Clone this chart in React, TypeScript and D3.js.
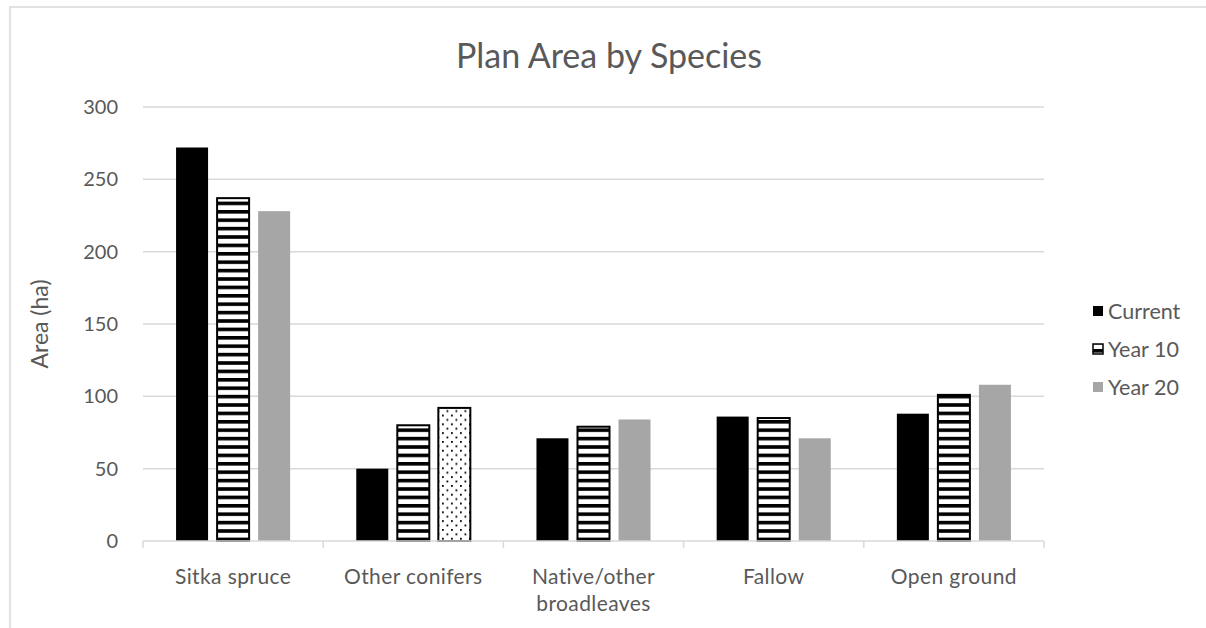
import React, { useEffect, useRef } from 'react';
import * as d3 from 'd3';

const categories = ['Sitka spruce', 'Other conifers', 'Native/other broadleaves', 'Fallow', 'Open ground'];
const seriesNames = ['Current', 'Year 10', 'Year 20'];
const current = [272, 50, 71, 86, 88];
const year10 = [237, 80, 79, 85, 101];
const year20 = [228, 92, 84, 71, 108];
const yTicks = [0, 50, 100, 150, 200, 250, 300];

const FONT = 'Lato, "Open Sans", sans-serif';
const TEXT = '#595959';
const GRID = '#d9d9d9';

const App: React.FC = () => {
  const svgRef = useRef<SVGSVGElement>(null);

  useEffect(() => {
    if (!svgRef.current) return;
    d3.select(svgRef.current).selectAll('*').remove();

    const width = 1206;
    const height = 628;
    const plot = { left: 143, right: 1044, top: 107, bottom: 541 };

    const svg = d3.select(svgRef.current).attr('width', width).attr('height', height);

    // patterns
    const defs = svg.append('defs');
    const stripes = defs
      .append('pattern')
      .attr('id', 'stripes')
      .attr('patternUnits', 'userSpaceOnUse')
      .attr('width', 8)
      .attr('height', 8.4);
    stripes.append('rect').attr('width', 8).attr('height', 8.4).attr('fill', '#fff');
    stripes.append('rect').attr('y', 0).attr('width', 8).attr('height', 3.6).attr('fill', '#000');

    const dots = defs
      .append('pattern')
      .attr('id', 'dots')
      .attr('patternUnits', 'userSpaceOnUse')
      .attr('width', 9)
      .attr('height', 8.8);
    dots.append('rect').attr('width', 9).attr('height', 8.8).attr('fill', '#fff');
    dots.append('rect').attr('x', 1).attr('y', 1).attr('width', 1.8).attr('height', 1.8).attr('fill', '#000');
    dots.append('rect').attr('x', 5.5).attr('y', 5.4).attr('width', 1.8).attr('height', 1.8).attr('fill', '#000');

    // chart border
    svg
      .append('rect')
      .attr('x', 10)
      .attr('y', 7)
      .attr('width', 1400)
      .attr('height', 800)
      .attr('fill', '#fff')
      .attr('stroke', GRID)
      .attr('stroke-width', 1.5);

    const x0 = d3
      .scaleBand()
      .domain(categories)
      .range([plot.left, plot.right])
      .paddingInner(0.367)
      .paddingOuter(0.1835);

    const x1 = d3
      .scaleBand()
      .domain(seriesNames)
      .range([0, x0.bandwidth()])
      .paddingInner(0.22)
      .paddingOuter(0);

    const y = d3.scaleLinear().domain([0, 300]).range([plot.bottom, plot.top]);

    // gridlines
    svg
      .append('g')
      .selectAll('line')
      .data(yTicks.filter((t) => t > 0))
      .join('line')
      .attr('x1', plot.left)
      .attr('x2', plot.right)
      .attr('y1', (d) => y(d))
      .attr('y2', (d) => y(d))
      .attr('stroke', GRID)
      .attr('stroke-width', 1.5);

    // y tick labels
    svg
      .append('g')
      .selectAll('text')
      .data(yTicks)
      .join('text')
      .attr('x', 118)
      .attr('y', (d) => y(d) + 7)
      .attr('text-anchor', 'end')
      .attr('font-family', FONT)
      .attr('font-size', 20)
      .attr('fill', TEXT)
      .text((d) => d);

    // bars
    const seriesData = [current, year10, year20];
    const fills = ['#000', 'url(#stripes)', '#a6a6a6'];
    seriesNames.forEach((s, si) => {
      svg
        .append('g')
        .selectAll('rect')
        .data(categories.map((c, i) => ({ c, v: seriesData[si][i] })))
        .join('rect')
        .attr('x', (d) => (x0(d.c) ?? 0) + (x1(s) ?? 0))
        .attr('y', (d) => y(d.v))
        .attr('width', x1.bandwidth())
        .attr('height', (d) => y(0) - y(d.v))
        .attr('fill', (d) => (si === 2 && d.c === 'Other conifers' ? 'url(#dots)' : fills[si]))
        .attr('stroke', (d) => (si === 1 || (si === 2 && d.c === 'Other conifers') ? '#000' : 'none'))
        .attr('stroke-width', 2);
    });

    // x axis line and ticks
    const axis = svg.append('g');
    axis
      .append('line')
      .attr('x1', plot.left)
      .attr('x2', plot.right)
      .attr('y1', plot.bottom)
      .attr('y2', plot.bottom)
      .attr('stroke', GRID)
      .attr('stroke-width', 1.5);
    const bounds = categories.map((c) => (x0(c) ?? 0) - (x0.step() * x0.paddingInner()) / 2);
    bounds.push(plot.right);
    axis
      .selectAll('line.tick')
      .data(bounds)
      .join('line')
      .attr('class', 'tick')
      .attr('x1', (d) => d)
      .attr('x2', (d) => d)
      .attr('y1', plot.bottom)
      .attr('y2', plot.bottom + 7)
      .attr('stroke', GRID)
      .attr('stroke-width', 1.5);

    // category labels
    const labelLines: Record<string, string[]> = {
      'Native/other broadleaves': ['Native/other', 'broadleaves'],
    };
    categories.forEach((c) => {
      const lines = labelLines[c] ?? [c];
      const cx = (x0(c) ?? 0) + x0.bandwidth() / 2;
      const t = svg
        .append('text')
        .attr('x', cx)
        .attr('y', 584)
        .attr('text-anchor', 'middle')
        .attr('font-family', FONT)
        .attr('font-size', 21)
        .attr('letter-spacing', 0.4)
        .attr('fill', TEXT);
      lines.forEach((l, i) => {
        t.append('tspan')
          .attr('x', cx)
          .attr('dy', i === 0 ? 0 : 27)
          .text(l);
      });
    });

    // y axis title
    svg
      .append('text')
      .attr('transform', 'translate(48,324) rotate(-90)')
      .attr('text-anchor', 'middle')
      .attr('font-family', FONT)
      .attr('font-size', 23)
      .attr('fill', TEXT)
      .text('Area (ha)');

    // title
    svg
      .append('text')
      .attr('x', 609)
      .attr('y', 68)
      .attr('text-anchor', 'middle')
      .attr('font-family', FONT)
      .attr('font-size', 34)
      .attr('fill', TEXT)
      .text('Plan Area by Species');

    // legend
    const legend = svg
      .append('g')
      .selectAll('g')
      .data(seriesNames)
      .join('g')
      .attr('transform', (_, i) => `translate(1093,${311 + i * 38})`);
    legend
      .append('rect')
      .attr('x', 0)
      .attr('y', -5)
      .attr('width', 10)
      .attr('height', 10)
      .attr('fill', (_, i) => fills[i])
      .attr('stroke', (_, i) => (i === 1 ? '#000' : 'none'))
      .attr('stroke-width', 1.5);
    legend
      .append('text')
      .attr('x', 15)
      .attr('y', 7.5)
      .attr('font-family', FONT)
      .attr('font-size', 21.5)
      .attr('fill', TEXT)
      .text((d) => d);
  }, []);

  return (
    <div style={{ position: 'absolute', left: 0, top: 0 }}>
      <svg ref={svgRef} style={{ display: 'block' }}></svg>
    </div>
  );
};

export default App;
